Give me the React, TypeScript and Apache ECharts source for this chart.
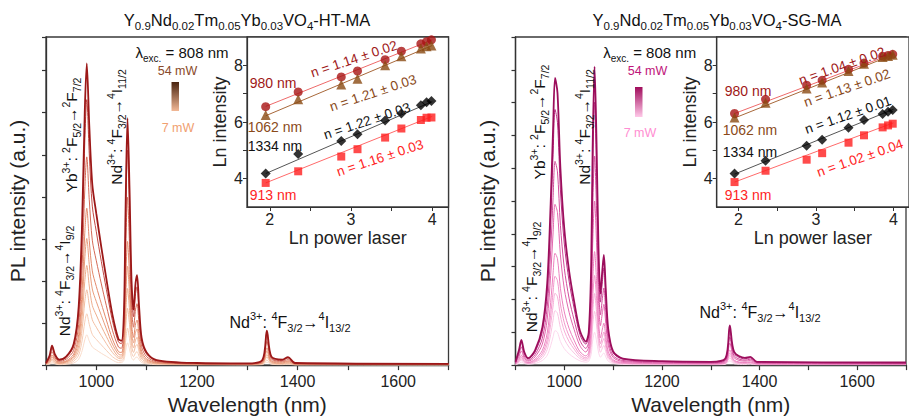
import React, { useEffect, useRef } from 'react';
import * as echarts from 'echarts';

const FONT = '"Liberation Sans", Arial, Helvetica, sans-serif';

// Emission wavelengths (nm) shared by every spectrum
const wavelengths = [900, 907, 912, 918, 926, 940, 955, 965, 972, 977, 981, 986, 992, 1000, 1010, 1020, 1032, 1044, 1050, 1055, 1058, 1062, 1066, 1070, 1074, 1078, 1081, 1085, 1090, 1100, 1120, 1200, 1300, 1330, 1339, 1348, 1370, 1381, 1395, 1700];

// HT-MA sample, PL intensity (a.u.) for each pump power
const ht7mW = [0.01, 0.02, 0.05, 0.03, 0.01, 0.02, 0.05, 0.14, 0.35, 0.6, 0.72, 0.57, 0.43, 0.36, 0.28, 0.21, 0.12, 0.06, 0.06, 0.12, 0.32, 0.53, 0.38, 0.18, 0.12, 0.18, 0.19, 0.13, 0.06, 0.03, 0.01, 0.01, 0.0, 0.01, 0.07, 0.02, 0.01, 0.02, 0.0, 0.0];
const ht10mW = [0.01, 0.04, 0.08, 0.04, 0.02, 0.03, 0.09, 0.24, 0.6, 1.02, 1.22, 0.97, 0.73, 0.61, 0.48, 0.35, 0.2, 0.11, 0.1, 0.2, 0.54, 0.88, 0.63, 0.3, 0.2, 0.29, 0.32, 0.21, 0.1, 0.05, 0.02, 0.01, 0.01, 0.02, 0.12, 0.03, 0.02, 0.03, 0.01, 0.0];
const ht18mW = [0.01, 0.06, 0.12, 0.06, 0.03, 0.05, 0.13, 0.35, 0.88, 1.5, 1.79, 1.43, 1.08, 0.9, 0.7, 0.51, 0.3, 0.16, 0.15, 0.3, 0.83, 1.35, 0.97, 0.46, 0.3, 0.45, 0.49, 0.32, 0.15, 0.07, 0.03, 0.01, 0.01, 0.03, 0.19, 0.05, 0.03, 0.04, 0.01, 0.01];
const ht22mW = [0.02, 0.07, 0.15, 0.08, 0.04, 0.07, 0.17, 0.46, 1.16, 1.98, 2.37, 1.88, 1.42, 1.19, 0.92, 0.68, 0.4, 0.2, 0.19, 0.4, 1.12, 1.82, 1.3, 0.62, 0.41, 0.6, 0.66, 0.43, 0.2, 0.09, 0.04, 0.02, 0.01, 0.04, 0.25, 0.06, 0.04, 0.06, 0.02, 0.01];
const ht31mW = [0.02, 0.09, 0.19, 0.11, 0.05, 0.08, 0.21, 0.59, 1.47, 2.52, 3.01, 2.39, 1.81, 1.51, 1.18, 0.86, 0.5, 0.26, 0.24, 0.52, 1.44, 2.35, 1.68, 0.8, 0.53, 0.78, 0.86, 0.56, 0.26, 0.12, 0.05, 0.02, 0.02, 0.05, 0.33, 0.08, 0.05, 0.08, 0.02, 0.01];
const ht37mW = [0.03, 0.11, 0.24, 0.13, 0.07, 0.1, 0.26, 0.73, 1.82, 3.12, 3.73, 2.96, 2.24, 1.87, 1.46, 1.07, 0.62, 0.32, 0.3, 0.65, 1.8, 2.94, 2.1, 1.0, 0.66, 0.98, 1.07, 0.7, 0.33, 0.15, 0.06, 0.03, 0.02, 0.06, 0.41, 0.1, 0.07, 0.1, 0.03, 0.02];
const ht48mW = [0.03, 0.15, 0.32, 0.17, 0.09, 0.14, 0.35, 0.97, 2.42, 4.14, 4.95, 3.93, 2.97, 2.48, 1.93, 1.41, 0.83, 0.43, 0.4, 0.88, 2.45, 3.99, 2.86, 1.36, 0.9, 1.33, 1.46, 0.95, 0.44, 0.2, 0.08, 0.03, 0.03, 0.08, 0.56, 0.14, 0.09, 0.13, 0.03, 0.02];
const ht51mW = [0.04, 0.19, 0.4, 0.22, 0.11, 0.18, 0.44, 1.23, 3.08, 5.28, 6.31, 5.02, 3.78, 3.17, 2.46, 1.8, 1.06, 0.55, 0.51, 1.13, 3.13, 5.11, 3.65, 1.74, 1.15, 1.7, 1.86, 1.22, 0.57, 0.26, 0.1, 0.04, 0.03, 0.1, 0.71, 0.17, 0.11, 0.17, 0.04, 0.03];
const ht54mW = [0.05, 0.22, 0.46, 0.25, 0.13, 0.2, 0.5, 1.4, 3.5, 6.0, 7.17, 5.7, 4.3, 3.6, 2.8, 2.05, 1.2, 0.62, 0.58, 1.3, 3.6, 5.87, 4.2, 2.0, 1.32, 1.95, 2.14, 1.4, 0.65, 0.3, 0.12, 0.05, 0.04, 0.12, 0.82, 0.2, 0.13, 0.19, 0.05, 0.03];

// SG-MA sample, PL intensity (a.u.) for each pump power
const sg7mW = [0.01, 0.05, 0.09, 0.05, 0.03, 0.05, 0.14, 0.3, 0.59, 0.86, 1.05, 1.0, 0.72, 0.5, 0.34, 0.23, 0.13, 0.09, 0.12, 0.33, 0.73, 1.0, 0.75, 0.4, 0.24, 0.32, 0.37, 0.25, 0.12, 0.05, 0.02, 0.01, 0.01, 0.02, 0.13, 0.04, 0.02, 0.03, 0.01, 0.01];
const sg10mW = [0.02, 0.09, 0.15, 0.08, 0.04, 0.09, 0.22, 0.48, 0.93, 1.37, 1.66, 1.58, 1.14, 0.79, 0.54, 0.37, 0.2, 0.14, 0.19, 0.54, 1.19, 1.64, 1.22, 0.65, 0.39, 0.52, 0.6, 0.41, 0.2, 0.08, 0.04, 0.02, 0.02, 0.04, 0.22, 0.07, 0.04, 0.05, 0.02, 0.02];
const sg18mW = [0.03, 0.11, 0.19, 0.1, 0.05, 0.11, 0.29, 0.63, 1.23, 1.8, 2.19, 2.08, 1.5, 1.04, 0.71, 0.49, 0.26, 0.18, 0.25, 0.72, 1.58, 2.18, 1.63, 0.86, 0.52, 0.7, 0.81, 0.55, 0.26, 0.1, 0.05, 0.03, 0.03, 0.05, 0.29, 0.1, 0.05, 0.06, 0.02, 0.02];
const sg22mW = [0.03, 0.14, 0.24, 0.12, 0.07, 0.14, 0.36, 0.78, 1.52, 2.23, 2.71, 2.57, 1.86, 1.29, 0.88, 0.6, 0.33, 0.22, 0.31, 0.9, 1.98, 2.73, 2.04, 1.08, 0.65, 0.87, 1.01, 0.69, 0.33, 0.13, 0.06, 0.04, 0.03, 0.06, 0.36, 0.12, 0.07, 0.08, 0.03, 0.02];
const sg31mW = [0.04, 0.18, 0.3, 0.16, 0.08, 0.18, 0.45, 0.98, 1.91, 2.81, 3.41, 3.24, 2.34, 1.62, 1.11, 0.76, 0.41, 0.28, 0.39, 1.14, 2.51, 3.46, 2.58, 1.37, 0.83, 1.1, 1.28, 0.87, 0.42, 0.16, 0.08, 0.05, 0.04, 0.08, 0.46, 0.15, 0.08, 0.1, 0.04, 0.03];
const sg37mW = [0.06, 0.25, 0.43, 0.22, 0.12, 0.25, 0.64, 1.4, 2.74, 4.03, 4.9, 4.65, 3.36, 2.32, 1.6, 1.09, 0.59, 0.4, 0.56, 1.65, 3.63, 5.0, 3.74, 1.98, 1.2, 1.6, 1.85, 1.27, 0.61, 0.23, 0.11, 0.07, 0.06, 0.11, 0.67, 0.22, 0.12, 0.14, 0.06, 0.04];
const sg48mW = [0.07, 0.32, 0.55, 0.28, 0.15, 0.32, 0.82, 1.78, 3.48, 5.11, 6.21, 5.89, 4.26, 2.95, 2.02, 1.38, 0.75, 0.51, 0.71, 2.1, 4.62, 6.37, 4.76, 2.52, 1.53, 2.03, 2.35, 1.61, 0.77, 0.29, 0.14, 0.09, 0.07, 0.14, 0.85, 0.28, 0.15, 0.18, 0.07, 0.06];
const sg51mW = [0.09, 0.4, 0.69, 0.36, 0.19, 0.4, 1.02, 2.23, 4.36, 6.41, 7.79, 7.39, 5.34, 3.69, 2.54, 1.74, 0.93, 0.64, 0.89, 2.64, 5.81, 8.01, 5.98, 3.17, 1.92, 2.55, 2.96, 2.02, 0.97, 0.37, 0.18, 0.11, 0.09, 0.18, 1.06, 0.35, 0.19, 0.22, 0.09, 0.07];
const sg54mW = [0.1, 0.45, 0.77, 0.4, 0.21, 0.45, 1.15, 2.5, 4.9, 7.2, 8.75, 8.3, 6.0, 4.15, 2.85, 1.95, 1.05, 0.72, 1.0, 3.0, 6.6, 9.1, 6.8, 3.6, 2.18, 2.9, 3.36, 2.3, 1.1, 0.42, 0.2, 0.12, 0.1, 0.2, 1.21, 0.4, 0.22, 0.25, 0.1, 0.08];

const htSpectra = [ht7mW, ht10mW, ht18mW, ht22mW, ht31mW, ht37mW, ht48mW, ht51mW, ht54mW];
const sgSpectra = [sg7mW, sg10mW, sg18mW, sg22mW, sg31mW, sg37mW, sg48mW, sg51mW, sg54mW];

const htColors = ['#f9dccb', '#f6cdb6', '#f2bea2', '#eeae8e', '#e99d7d', '#e2896b', '#d46a56', '#c24842', '#9c1818'];
const sgColors = ['#fcd6ec', '#f9c4e2', '#f6aed7', '#f298cb', '#ec80be', '#e266ad', '#d24c9b', '#bc3085', '#9c0e5c'];

// ln(pump power) for the power-dependence insets
const lnPower = [1.95, 2.35, 2.88, 3.08, 3.42, 3.62, 3.86, 3.93, 3.99];

const htLn980 = [6.54, 7.06, 7.59, 7.8, 8.2, 8.5, 8.76, 8.84, 8.9];
const htLn1062 = [6.25, 6.8, 7.32, 7.53, 8.0, 8.32, 8.59, 8.67, 8.7];
const htLn1334 = [4.18, 4.87, 5.33, 5.57, 6.05, 6.3, 6.59, 6.7, 6.74];
const htLn913 = [3.85, 4.26, 4.78, 5.04, 5.45, 5.77, 6.07, 6.15, 6.16];

const sgLn980 = [6.3, 6.8, 7.3, 7.47, 7.86, 8.08, 8.32, 8.35, 8.39];
const sgLn1062 = [6.16, 6.68, 7.18, 7.39, 7.8, 8.06, 8.29, 8.33, 8.37];
const sgLn1334 = [4.18, 4.63, 5.16, 5.37, 5.8, 6.07, 6.28, 6.36, 6.42];
const sgLn913 = [3.88, 4.28, 4.67, 4.9, 5.27, 5.53, 5.81, 5.88, 5.94];

// Linear fit end points [lnP, lnI]
const htFit980 = [[1.95, 6.55], [4.0, 8.9]];
const htFit1062 = [[1.95, 6.22], [4.0, 8.7]];
const htFit1334 = [[1.95, 4.18], [4.0, 6.72]];
const htFit913 = [[1.95, 3.85], [4.0, 6.2]];
const sgFit980 = [[1.95, 6.3], [4.0, 8.42]];
const sgFit1062 = [[1.95, 6.14], [4.0, 8.38]];
const sgFit1334 = [[1.95, 4.16], [4.0, 6.45]];
const sgFit913 = [[1.95, 3.88], [4.0, 5.97]];

const htSlopes = ['n = 1.14 ± 0.02', 'n = 1.21 ± 0.03', 'n = 1.22 ± 0.03', 'n = 1.16 ± 0.03'];
const sgSlopes = ['n = 1.04 ± 0.02', 'n = 1.13 ± 0.02', 'n = 1.12 ± 0.01', 'n = 1.02 ± 0.04'];
const bandLabels = ['980 nm', '1062 nm', '1334 nm', '913 nm'];

const C980 = { mark: '#a81414', line: '#ee6a6a', text: '#a01818' };
const C1062 = { mark: '#8a4a12', line: '#a8683a', text: '#8a4a1a' };
const C1334 = { mark: '#000000', line: '#555555', text: '#111111' };
const C913 = { mark: '#ff1e1e', line: '#ff6a6a', text: '#ff2424' };

const AX = '#333';

function richText(x: number, y: number, text: string, size: number, sub: number, color = '#111', rotation = 0) {
  const lh = Math.round(size * 1.45);
  const sl = Math.round(sub * 1.1);
  return {
    type: 'text',
    x,
    y,
    rotation,
    z: 100,
    style: {
      text,
      fill: color,
      fontSize: size,
      fontFamily: FONT,
      align: 'center',
      verticalAlign: 'middle',
      lineHeight: lh,
      rich: {
        p: { fontSize: sub, fontFamily: FONT, fill: color, verticalAlign: 'top', lineHeight: sl },
        b: { fontSize: sub, fontFamily: FONT, fill: color, verticalAlign: 'bottom', lineHeight: sl },
      },
    },
  };
}

function plainText(x: number, y: number, text: string, size: number, color: string, rotation = 0) {
  return {
    type: 'text',
    x,
    y,
    rotation,
    z: 100,
    style: { text, fill: color, fontSize: size, fontFamily: FONT, align: 'center', verticalAlign: 'middle' },
  };
}

function mainXAxis(gridIndex: number) {
  return {
    gridIndex,
    type: 'value',
    min: 900,
    max: 1700,
    interval: 100,
    axisLine: { show: true, onZero: false, lineStyle: { color: AX, width: 1.3 } },
    axisTick: { show: true, length: 5, lineStyle: { color: AX, width: 1.2 } },
    axisLabel: {
      formatter: (v: number) => (v % 200 === 0 ? String(v) : ''),
      fontSize: 16,
      color: '#222',
      fontFamily: FONT,
      margin: 8,
    },
    splitLine: { show: false },
    name: 'Wavelength (nm)',
    nameLocation: 'middle',
    nameGap: 26,
    nameTextStyle: { fontSize: 21, color: '#222', fontFamily: FONT },
  };
}

function mainYAxis(gridIndex: number, max: number) {
  return {
    gridIndex,
    type: 'value',
    min: 0,
    max,
    interval: 1,
    axisLine: { show: true, onZero: false, lineStyle: { color: AX, width: 1.3 } },
    axisTick: { show: true, length: 4, lineStyle: { color: AX, width: 1.2 } },
    axisLabel: { show: false },
    splitLine: { show: false },
    name: 'PL intensity (a.u.)',
    nameLocation: 'middle',
    nameGap: 18,
    nameTextStyle: { fontSize: 21, color: '#222', fontFamily: FONT },
  };
}

function insetXAxis(gridIndex: number) {
  return {
    gridIndex,
    type: 'value',
    min: 1.72,
    max: 4.2,
    axisLine: { show: true, onZero: false, lineStyle: { color: AX, width: 1.2 } },
    axisTick: { show: true, length: 4, customValues: [2, 2.5, 3, 3.5, 4], lineStyle: { color: AX } },
    axisLabel: { customValues: [2, 3, 4], fontSize: 16, color: '#222', fontFamily: FONT, margin: 4 },
    splitLine: { show: false },
    name: 'Ln power laser',
    nameLocation: 'middle',
    nameGap: 22,
    nameTextStyle: { fontSize: 18, color: '#222', fontFamily: FONT },
  };
}

function insetYAxis(gridIndex: number) {
  return {
    gridIndex,
    type: 'value',
    min: 3,
    max: 9,
    axisLine: { show: true, onZero: false, lineStyle: { color: AX, width: 1.2 } },
    axisTick: { show: true, length: 4, customValues: [4, 5, 6, 7, 8], lineStyle: { color: AX } },
    axisLabel: { customValues: [4, 6, 8], fontSize: 16, color: '#222', fontFamily: FONT, margin: 4 },
    splitLine: { show: false },
    name: 'Ln intensity',
    nameLocation: 'middle',
    nameGap: 18,
    nameTextStyle: { fontSize: 18, color: '#222', fontFamily: FONT },
  };
}

function spectraSeries(rows: number[][], colors: string[], axisIndex: number) {
  return rows.map((row, k) => ({
    type: 'line',
    xAxisIndex: axisIndex,
    yAxisIndex: axisIndex,
    data: wavelengths.map((w, i) => [w, row[i]]),
    showSymbol: false,
    smooth: 0.3,
    clip: true,
    lineStyle: { color: colors[k], width: k === rows.length - 1 ? 1.8 : 1 },
    z: 2 + k,
  }));
}

function insetSeries(axisIndex: number, sets: { pts: number[]; fit: number[][]; c: { mark: string; line: string }; symbol: string; size: number }[]) {
  const out: any[] = [];
  sets.forEach((s) => {
    out.push({
      type: 'line',
      xAxisIndex: axisIndex,
      yAxisIndex: axisIndex,
      data: s.fit,
      showSymbol: false,
      lineStyle: { color: s.c.line, width: 1 },
      z: 5,
    });
    out.push({
      type: 'scatter',
      xAxisIndex: axisIndex,
      yAxisIndex: axisIndex,
      data: lnPower.map((x, i) => [x, s.pts[i]]),
      symbol: s.symbol,
      symbolSize: s.size,
      itemStyle: { color: s.c.mark },
      z: 6,
    });
  });
  return out;
}

function annotations(dx: number, pal: { hi: string; lo: string; barTop: string; barBottom: string }, title: string, a: { nd9: number[]; yb: number[]; nd11: number[]; nd13: number[]; lo: number[]; bar: number[] }) {
  return [
    richText(247 + dx, 20, title, 16.5, 11.5, '#111'),
    richText(a.nd9[0], a.nd9[1], 'Nd{p|3+}: {p|4}F{b|3/2}→{p|4}I{b|9/2}', 15.5, 10.5, '#111', Math.PI / 2),
    richText(a.yb[0], a.yb[1], 'Yb{p|3+}: {p|2}F{b|5/2}→{p|2}F{b|7/2}', 15.5, 10.5, '#111', Math.PI / 2),
    richText(a.nd11[0], a.nd11[1], 'Nd{p|3+}: {p|4}F{b|3/2}→{p|4}I{b|11/2}', 15.5, 10.5, '#111', Math.PI / 2),
    richText(a.nd13[0], a.nd13[1], 'Nd{p|3+}: {p|4}F{b|3/2}→{p|4}I{b|13/2}', 16, 11, '#111'),
    richText(182 + dx * 0.995, 52, 'λ{b|exc.} = 808 nm', 15, 10, '#111'),
    plainText(177.5 + dx, 71, '54 mW', 12.5, pal.hi),
    {
      type: 'rect',
      z: 100,
      shape: { x: a.bar[0], y: a.bar[1], width: a.bar[2], height: a.bar[3] },
      style: {
        fill: new echarts.graphic.LinearGradient(0, 0, 0, 1, [
          { offset: 0, color: pal.barTop },
          { offset: 1, color: pal.barBottom },
        ]),
      },
    },
    plainText(a.lo[0], a.lo[1], '7 mW', 12.5, pal.lo),
  ];
}

function insetLabels(pos: number[][], slopes: string[], rot: number) {
  const cols = [C980, C1062, C1334, C913];
  const els: any[] = [];
  cols.forEach((c, i) => {
    els.push(plainText(pos[i][0], pos[i][1], bandLabels[i], 14, c.text));
    els.push(plainText(pos[i + 4][0], pos[i + 4][1], slopes[i], 13.5, c.text, rot));
  });
  return els;
}

function buildOption() {
  const gridBase = { show: true, borderColor: '#3a3a3a', borderWidth: 1.3, backgroundColor: '#fff' };
  return {
    animation: false,
    backgroundColor: '#ffffff',
    textStyle: { fontFamily: FONT },
    grid: [
      { ...gridBase, left: 46, top: 37, width: 402.5, height: 330 },
      { ...gridBase, left: 247, top: 37, width: 201.5, height: 170 },
      { ...gridBase, left: 515.5, top: 37, width: 404, height: 330 },
      { ...gridBase, left: 716.7, top: 37, width: 202.8, height: 170 },
    ],
    xAxis: [mainXAxis(0), insetXAxis(1), mainXAxis(2), insetXAxis(3)],
    yAxis: [mainYAxis(0, 7.8), insetYAxis(1), mainYAxis(2, 10), insetYAxis(3)],
    series: [
      ...spectraSeries(htSpectra, htColors, 0),
      ...spectraSeries(sgSpectra, sgColors, 2),
      ...insetSeries(1, [
        { pts: htLn980, fit: htFit980, c: C980, symbol: 'circle', size: 9 },
        { pts: htLn1062, fit: htFit1062, c: C1062, symbol: 'triangle', size: 10 },
        { pts: htLn1334, fit: htFit1334, c: C1334, symbol: 'diamond', size: 10 },
        { pts: htLn913, fit: htFit913, c: C913, symbol: 'rect', size: 8 },
      ]),
      ...insetSeries(3, [
        { pts: sgLn980, fit: sgFit980, c: C980, symbol: 'circle', size: 9 },
        { pts: sgLn1062, fit: sgFit1062, c: C1062, symbol: 'triangle', size: 10 },
        { pts: sgLn1334, fit: sgFit1334, c: C1334, symbol: 'diamond', size: 10 },
        { pts: sgLn913, fit: sgFit913, c: C913, symbol: 'rect', size: 8 },
      ]),
    ],
    graphic: [
      ...annotations(
        0,
        { hi: '#8a4a2a', lo: '#f0a070', barTop: '#4a2410', barBottom: '#f2b896' },
        'Y{b|0.9}Nd{b|0.02}Tm{b|0.05}Yb{b|0.03}VO{b|4}-HT-MA',
        { nd9: [64, 281], yb: [71, 135], nd11: [116, 127], nd13: [290, 322], lo: [178, 128], bar: [171.5, 82, 7.5, 29] }
      ),
      ...annotations(
        470,
        { hi: '#c0147a', lo: '#ff8ed2', barTop: '#a00c5c', barBottom: '#ffc8e8' },
        'Y{b|0.9}Nd{b|0.02}Tm{b|0.05}Yb{b|0.03}VO{b|4}-SG-MA',
        { nd9: [531, 277], yb: [539, 122], nd11: [584, 127], nd13: [760, 312], lo: [640, 133], bar: [635, 87, 7.5, 30] }
      ),
      ...insetLabels(
        [[273, 83], [275, 127], [275, 146], [273, 195], [354, 59], [373, 93], [367, 121], [380, 158]],
        htSlopes,
        0.32
      ),
      ...insetLabels(
        [[748, 91], [750, 130], [750, 152], [748, 195], [842, 66], [847, 88], [848, 115], [860, 158]],
        sgSlopes,
        0.33
      ),
    ],
  };
}

export default function App() {
  const ref = useRef<HTMLDivElement | null>(null);
  useEffect(() => {
    if (!ref.current) return;
    const chart = echarts.init(ref.current, undefined, { renderer: 'svg' });
    chart.setOption(buildOption() as any);
    return () => chart.dispose();
  }, []);
  return <div ref={ref} style={{ position: 'fixed', left: 0, top: 0, width: 909, height: 420, background: '#fff' }} />;
}
